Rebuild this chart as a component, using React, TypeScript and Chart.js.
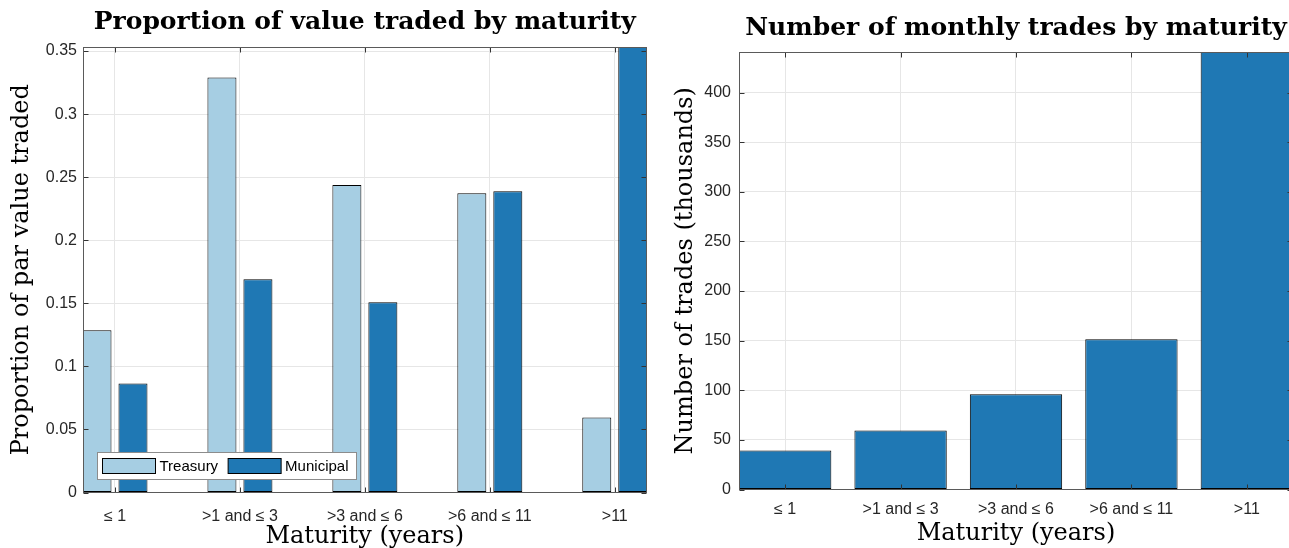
import React, { useEffect, useRef } from "react";
import { Chart, registerables } from "chart.js";

Chart.register(...registerables);

// ---------- data ----------
const CATEGORIES = ["≤ 1", ">1 and ≤ 3", ">3 and ≤ 6", ">6 and ≤ 11", ">11"];
const CATEGORY_POSITIONS = [1, 2, 3, 4, 5];
const TREASURY_SHARE = [0.1286, 0.329, 0.2437, 0.2373, 0.0595];
const MUNICIPAL_SHARE = [0.0865, 0.169, 0.1508, 0.2389, 0.3532];
const MONTHLY_TRADES_THOUSANDS = [39.4, 59.5, 95.9, 151.4, 441];
const SHARE_TICKS = [0, 0.05, 0.1, 0.15, 0.2, 0.25, 0.3, 0.35];
const SHARE_TICK_LABELS = ["0", "0.05", "0.1", "0.15", "0.2", "0.25", "0.3", "0.35"];
const TRADE_TICKS = [0, 50, 100, 150, 200, 250, 300, 350, 400];
const TRADE_TICK_LABELS = ["0", "50", "100", "150", "200", "250", "300", "350", "400"];

const LEFT_TITLE = "Proportion of value traded by maturity";
const RIGHT_TITLE = "Number of monthly trades by maturity";
const LEFT_Y_TITLE = "Proportion of par value traded";
const RIGHT_Y_TITLE = "Number of trades (thousands)";
const X_TITLE = "Maturity (years)";

// ---------- style ----------
const SERIF = '"DejaVu Serif", "Liberation Serif", serif';
const SANS = '"Liberation Sans", Arial, sans-serif';
const LIGHT_BLUE = "#a6cee3";
const DARK_BLUE = "#1f78b4";
const GRID = "#e6e6e6";
const TEXT = "#262626";

const framePlugin = {
  id: "matlabFrame",
  afterDatasetsDraw(chart: any) {
    const { ctx, chartArea: a, scales } = chart;
    const L = Math.round(a.left) + 0.5;
    const R = Math.round(a.right) - 0.5;
    const T = Math.round(a.top) + 0.5;
    const B = Math.round(a.bottom) - 0.5;
    const tl = 5;
    ctx.save();
    ctx.lineWidth = 1;
    ctx.strokeStyle = "#333333";
    ctx.beginPath();
    for (const t of scales.x.ticks) {
      const px = Math.round(scales.x.getPixelForValue(t.value)) + 0.5;
      ctx.moveTo(px, B);
      ctx.lineTo(px, B - tl);
      ctx.moveTo(px, T);
      ctx.lineTo(px, T + tl);
    }
    for (const t of scales.y.ticks) {
      const py = Math.round(scales.y.getPixelForValue(t.value)) + 0.5;
      ctx.moveTo(L, py);
      ctx.lineTo(L + tl, py);
      ctx.moveTo(R, py);
      ctx.lineTo(R - tl, py);
    }
    ctx.stroke();
    ctx.strokeStyle = "#5a5a5a";
    ctx.strokeRect(L, T, R - L, B - T);
    ctx.restore();
  },
};

const insideLegendPlugin = {
  id: "insideLegend",
  afterDatasetsDraw(chart: any) {
    const { ctx, chartArea: a } = chart;
    const items = chart.data.datasets.map((ds: any) => ({
      label: ds.label,
      color: ds.backgroundColor,
    }));
    ctx.save();
    ctx.font = `15px ${SANS}`;
    const swW = 53;
    const swH = 15;
    const gapSwText = 4;
    const gapItems = 10;
    const padL = 5;
    const padR = 8;
    let w = padL + padR;
    items.forEach((it: any, i: number) => {
      w += swW + gapSwText + ctx.measureText(it.label).width;
      if (i < items.length - 1) w += gapItems;
    });
    const bx = Math.round(a.left) + 14.5;
    const by = Math.round(a.bottom) - 40.5;
    const bh = 27;
    ctx.fillStyle = "#ffffff";
    ctx.fillRect(bx, by, w, bh);
    ctx.strokeStyle = "#8c8c8c";
    ctx.lineWidth = 1;
    ctx.strokeRect(bx, by, Math.round(w), bh);
    let x = bx + padL;
    const cy = by + bh / 2;
    items.forEach((it: any) => {
      ctx.fillStyle = it.color;
      ctx.fillRect(x, cy - swH / 2, swW, swH);
      ctx.strokeStyle = "#000";
      ctx.strokeRect(x, cy - swH / 2, swW, swH);
      x += swW + gapSwText;
      ctx.fillStyle = "#000";
      ctx.textBaseline = "middle";
      ctx.textAlign = "left";
      ctx.fillText(it.label, x, cy + 1);
      x += ctx.measureText(it.label).width + gapItems;
    });
    ctx.restore();
  },
};

function buildConfig(kind: "share" | "trades"): any {
  const isShare = kind === "share";
  const datasets = isShare
    ? [
        {
          label: "Treasury",
          data: CATEGORY_POSITIONS.map((x, i) => ({ x, y: TREASURY_SHARE[i] })),
          backgroundColor: LIGHT_BLUE,
          borderColor: "#000",
          borderWidth: 1,
          borderSkipped: false,
          categoryPercentage: 0.576,
          barPercentage: 0.806,
          clip: 0,
        },
        {
          label: "Municipal",
          data: CATEGORY_POSITIONS.map((x, i) => ({ x, y: MUNICIPAL_SHARE[i] })),
          backgroundColor: DARK_BLUE,
          borderColor: "#000",
          borderWidth: 1,
          borderSkipped: false,
          categoryPercentage: 0.576,
          barPercentage: 0.806,
          clip: 0,
        },
      ]
    : [
        {
          label: "Trades",
          data: CATEGORY_POSITIONS.map((x, i) => ({ x, y: MONTHLY_TRADES_THOUSANDS[i] })),
          backgroundColor: DARK_BLUE,
          borderColor: "#000",
          borderWidth: 1,
          borderSkipped: false,
          categoryPercentage: 0.8,
          barPercentage: 1,
          clip: 0,
        },
      ];

  const yTicks = isShare ? SHARE_TICKS : TRADE_TICKS;
  const yLabels = isShare ? SHARE_TICK_LABELS : TRADE_TICK_LABELS;

  return {
    type: "bar",
    data: { datasets },
    plugins: isShare ? [framePlugin, insideLegendPlugin] : [framePlugin],
    options: {
      animation: false,
      responsive: false,
      devicePixelRatio: 1,
      layout: {
        padding: { left: 0, top: 0, bottom: 0, right: isShare ? 13.5 : 17 },
      },
      plugins: {
        legend: { display: false },
        tooltip: { enabled: false },
        title: {
          display: true,
          text: isShare ? LEFT_TITLE : RIGHT_TITLE,
          fullSize: false,
          color: "#000",
          font: { family: SERIF, size: 25, weight: "bold", lineHeight: 1.2 },
          padding: isShare ? { top: 7, bottom: 10 } : { top: 13, bottom: 9 },
        },
      },
      scales: {
        x: {
          type: "linear",
          offset: false,
          min: isShare ? 0.744 : 0.6,
          max: isShare ? 5.254 : 5.4,
          bounds: "data",
          afterBuildTicks: (axis: any) => {
            axis.ticks = CATEGORY_POSITIONS.map((v) => ({ value: v }));
          },
          afterFit: (s: any) => {
            s.height = isShare ? 55.5 : 58.5;
          },
          grid: { color: GRID, drawTicks: false, lineWidth: 1, offset: false },
          border: { display: false },
          ticks: {
            autoSkip: false,
            maxRotation: 0,
            padding: isShare ? 14 : 10,
            color: TEXT,
            font: { family: SANS, size: 16 },
            callback: (v: number) => CATEGORIES[CATEGORY_POSITIONS.indexOf(v)],
          },
          title: {
            display: true,
            text: X_TITLE,
            color: "#000",
            font: { family: SERIF, size: 24, lineHeight: 0.9 },
            padding: { top: 0, bottom: isShare ? 0 : 3.5 },
          },
        },
        y: {
          type: "linear",
          min: 0,
          max: isShare ? 0.3532 : 441,
          bounds: "data",
          afterBuildTicks: (axis: any) => {
            axis.ticks = yTicks.map((v) => ({ value: v }));
          },
          afterFit: (s: any) => {
            s.width = isShare ? 83 : 79;
          },
          grid: { color: GRID, drawTicks: false, lineWidth: 1 },
          border: { display: false },
          ticks: {
            padding: isShare ? 6 : 8,
            color: TEXT,
            font: { family: SANS, size: 16 },
            callback: (v: number) => yLabels[yTicks.indexOf(v)],
          },
          title: {
            display: true,
            text: isShare ? LEFT_Y_TITLE : RIGHT_Y_TITLE,
            color: "#000",
            font: { family: SERIF, size: 24, lineHeight: 1 },
            padding: { top: isShare ? 10 : 14, bottom: 0 },
          },
        },
      },
    },
  };
}

function BarPanel(props: { kind: "share" | "trades"; left: number; width: number }) {
  const ref = useRef<HTMLCanvasElement>(null);
  useEffect(() => {
    const chart = new Chart(ref.current as HTMLCanvasElement, buildConfig(props.kind));
    return () => chart.destroy();
  }, [props.kind]);
  return (
    <canvas
      ref={ref}
      width={props.width}
      height={548}
      style={{ position: "absolute", left: props.left, top: 0, width: props.width, height: 548 }}
    />
  );
}

export default function App() {
  return (
    <div
      style={{
        position: "fixed",
        left: 0,
        top: 0,
        width: 1289,
        height: 548,
        overflow: "hidden",
        background: "#ffffff",
      }}
    >
      <BarPanel kind="share" left={0} width={660} />
      <BarPanel kind="trades" left={660} width={650} />
    </div>
  );
}
